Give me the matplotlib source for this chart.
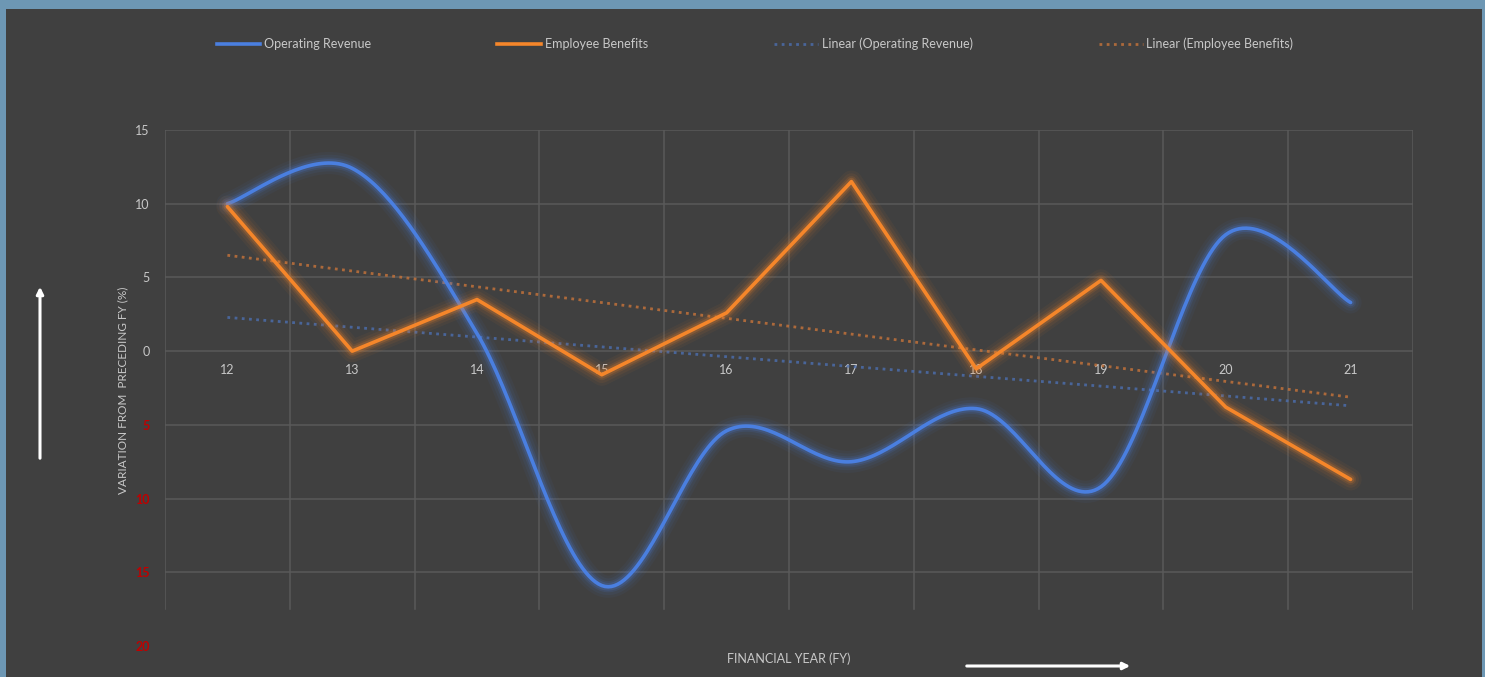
import numpy as np
import matplotlib
matplotlib.use("Agg")
import matplotlib.pyplot as plt
from matplotlib.lines import Line2D
from matplotlib.patches import FancyArrowPatch, Rectangle

# ---- data -------------------------------------------------------------
years = ["12", "13", "14", "15", "16", "17", "18", "19", "20", "21"]
operating_revenue = [10.0, 12.4, 1.2, -15.9, -5.4, -7.5, -3.9, -9.2, 7.9, 3.3]
employee_benefits = [9.8, 0.0, 3.5, -1.6, 2.6, 11.5, -1.2, 4.8, -3.8, -8.7]
y_ticks = [15, 10, 5, 0, -5, -10, -15, -20]

# ---- style ------------------------------------------------------------
BG = "#404040"
FRAME = "#6d97b4"
GRID = "#5a5a5a"
TXT = "#c8c8c8"
NEG = "#c00000"
BLUE = "#4a7fe0"
ORANGE = "#f5862a"
BLUE_TREND = "#4d72b8"
ORANGE_TREND = "#c8743a"
plt.rcParams["font.family"] = ["Lato", "DejaVu Sans"]

W, H = 1485, 677
fig = plt.figure(figsize=(W / 100, H / 100), dpi=100, facecolor=FRAME)

# dark panel inside the blue frame
fig.add_artist(Rectangle((6 / W, 0), (W - 9) / W, (H - 9) / H,
                         transform=fig.transFigure, facecolor=BG,
                         edgecolor="none", zorder=-10))

L, R, T, B = 165, 1413, 130, 646
ax = fig.add_axes([L / W, 1 - B / H, (R - L) / W, (B - T) / H], zorder=1)
ax.set_facecolor("none")
for s in ax.spines.values():
    s.set_visible(False)

x = np.arange(len(years))
ax.set_xlim(-0.5, len(years) - 0.5)
ax.set_ylim(-20, 15)

# gridlines: horizontal at each major value, vertical between categories
for v in y_ticks[:-1]:
    ax.plot([-0.5, len(years) - 0.5], [v, v], color=GRID, lw=1.1, zorder=1)
for b in np.arange(-0.5, len(years), 1.0):
    ax.plot([b, b], [-17.5, 15], color=GRID, lw=1.1, zorder=1)

ax.set_xticks([])
ax.set_yticks(y_ticks)
ax.set_yticklabels([f"{abs(v):g}" for v in y_ticks], fontsize=9)
for lab, v in zip(ax.get_yticklabels(), y_ticks):
    lab.set_color(NEG if v < 0 else TXT)
    lab.set_fontweight("bold" if v < 0 else "normal")
ax.tick_params(axis="y", length=0, pad=11)

# category labels sit just under the zero line
for xi, lab in zip(x, years):
    ax.text(xi, -0.9, lab, ha="center", va="top", fontsize=9, color=TXT,
            zorder=2)


def smooth(xs, ys, n=40):
    """Catmull-Rom style cubic Bezier through every point."""
    xs = np.asarray(xs, float)
    ys = np.asarray(ys, float)
    px = np.concatenate([[xs[0]], xs, [xs[-1]]])
    py = np.concatenate([[ys[0]], ys, [ys[-1]]])
    outx, outy = [], []
    t = np.linspace(0, 1, n)[:, None]
    for i in range(1, len(xs)):
        p0 = np.array([px[i], py[i]])
        p3 = np.array([px[i + 1], py[i + 1]])
        c1 = p0 + (p3 - np.array([px[i - 1], py[i - 1]])) / 6
        c2 = p3 - (np.array([px[i + 2], py[i + 2]]) - p0) / 6
        b = (1 - t) ** 3 * p0 + 3 * (1 - t) ** 2 * t * c1 \
            + 3 * (1 - t) * t ** 2 * c2 + t ** 3 * p3
        outx.extend(b[:, 0])
        outy.extend(b[:, 1])
    return np.array(outx), np.array(outy)


def glow_line(xs, ys, color, z):
    for w, a in [(16, 0.05), (12, 0.07), (8, 0.12), (5.5, 0.2)]:
        ax.plot(xs, ys, color=color, lw=w, alpha=a, solid_capstyle="round",
                solid_joinstyle="round", zorder=z)
    ax.plot(xs, ys, color=color, lw=2.6, solid_capstyle="round",
            solid_joinstyle="round", zorder=z + 0.5)


# linear trendlines
rev_fit = np.polyfit(x, operating_revenue, 1)
ben_fit = np.polyfit(x, employee_benefits, 1)
ax.plot(x, np.polyval(rev_fit, x), color=BLUE_TREND, lw=2, ls=(0, (1, 1.6)),
        alpha=0.75, zorder=3)
ax.plot(x, np.polyval(ben_fit, x), color=ORANGE_TREND, lw=2, ls=(0, (1, 1.6)),
        alpha=0.8, zorder=3)

sx, sy = smooth(x, operating_revenue)
glow_line(sx, sy, BLUE, 4)
glow_line(x, employee_benefits, ORANGE, 5)

# axis titles
fig.text(123 / W, 1 - 390 / H, "VARIATION FROM  PRECEDING FY (%)", fontsize=8.5,
         color=TXT, rotation=90, ha="center", va="center")
fig.text(789 / W, 1 - 659 / H, "FINANCIAL YEAR (FY)", fontsize=9, color=TXT,
         ha="center", va="center")

# direction arrows
fig.add_artist(FancyArrowPatch((40 / W, 1 - 461 / H), (40 / W, 1 - 284 / H),
                               transform=fig.transFigure, arrowstyle="-|>",
                               mutation_scale=10, color="white", lw=2.2))
fig.add_artist(FancyArrowPatch((964 / W, 1 - 666 / H), (1133 / W, 1 - 666 / H),
                               transform=fig.transFigure, arrowstyle="-|>",
                               mutation_scale=10, color="white", lw=2.2))

# legend
handles = [
    Line2D([], [], color=BLUE, lw=2.6),
    Line2D([], [], color=ORANGE, lw=2.6),
    Line2D([], [], color=BLUE_TREND, lw=2, ls=(0, (1, 1.6)), alpha=0.75),
    Line2D([], [], color=ORANGE_TREND, lw=2, ls=(0, (1, 1.6)), alpha=0.8),
]
labels = ["Operating Revenue", "Employee Benefits",
          "Linear (Operating Revenue)", "Linear (Employee Benefits)"]
fig.legend(handles, labels, loc="center", bbox_to_anchor=(755 / W, 1 - 44 / H),
           ncol=4, frameon=False, fontsize=9, labelcolor=TXT,
           handlelength=3.5, handletextpad=0.3, columnspacing=10.1)

fig.savefig("out.png", dpi=100, facecolor=FRAME)
